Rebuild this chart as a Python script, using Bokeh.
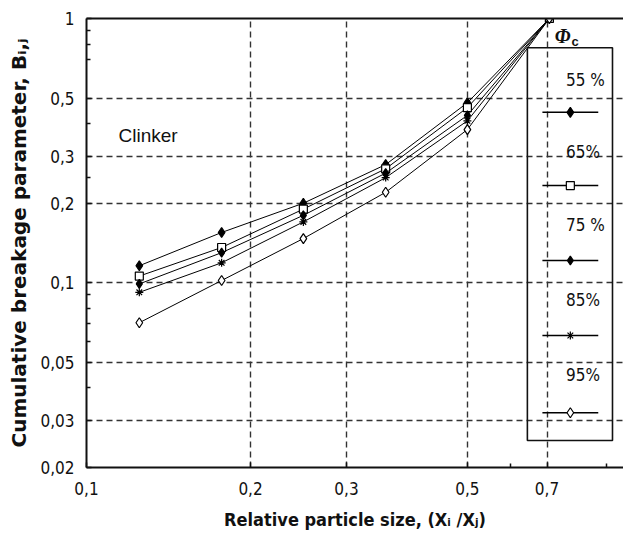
from bokeh.plotting import figure
from bokeh.models import (LogAxis, FixedTicker, Range1d, LinearScale, Label,
                          ColumnDataSource)
from bokeh.core.properties import value
from bokeh.embed import file_html
from bokeh.resources import INLINE

# ---- data ----
x_rel = [0.125, 0.177, 0.25, 0.354, 0.5, 0.707]
b_55 = [0.116, 0.155, 0.200, 0.280, 0.480, 1.0]
b_65 = [0.106, 0.136, 0.190, 0.270, 0.460, 1.0]
b_75 = [0.099, 0.130, 0.180, 0.260, 0.430, 1.0]
b_85 = [0.092, 0.119, 0.170, 0.250, 0.410, 1.0]
b_95 = [0.0706, 0.102, 0.147, 0.220, 0.380, 1.0]
series_labels = ["55 %", "65%", "75 %", "85%", "95%"]
series_values = [b_55, b_65, b_75, b_85, b_95]
series_markers = ["diamond", "square", "diamond", "asterisk", "diamond"]
series_fill = ["black", "white", "black", None, "white"]
series_size = [10, 8, 9, 8, 10]

x_ticks = [0.1, 0.2, 0.3, 0.5, 0.7]
x_tick_labels = ["0,1", "0,2", "0,3", "0,5", "0,7"]
x_minor = [0.6, 0.9]
y_ticks = [0.02, 0.03, 0.05, 0.1, 0.2, 0.3, 0.5, 1.0]
y_tick_labels = ["0,02", "0,03", "0,05", "0,1", "0,2", "0,3", "0,5", "1"]
y_minor = [0.04, 0.06, 0.07, 0.08, 0.09, 0.25, 0.4, 0.7, 0.8, 0.9]

NARROW = "DejaVu Sans Condensed"
INK = "#111111"

p = figure(width=623, height=538, x_axis_type="log", y_axis_type="log",
           x_range=Range1d(0.1, 0.967), y_range=Range1d(0.02, 1.0),
           output_backend="svg", toolbar_location=None,
           min_border_left=86, min_border_right=0, min_border_top=18,
           min_border_bottom=71)
p.outline_line_color = None
p.background_fill_color = "white"

# extra normalized frame for the legend layout
p.extra_x_ranges = {"lx": Range1d(0, 1)}
p.extra_y_ranges = {"ly": Range1d(0, 1)}
p.extra_x_scales = {"lx": LinearScale()}
p.extra_y_scales = {"ly": LinearScale()}

def style_axis(ax, ticks, labels, minor):
    ax.ticker = FixedTicker(ticks=ticks, minor_ticks=minor)
    ax.major_label_overrides = {t: l for t, l in zip(ticks, labels)}
    ax.axis_line_width = 2
    ax.axis_line_color = INK
    ax.major_tick_in = 5
    ax.major_tick_out = 0
    ax.minor_tick_in = 4
    ax.minor_tick_out = 0
    ax.major_tick_line_width = 1.5
    ax.minor_tick_line_width = 1.5
    ax.major_tick_line_color = INK
    ax.minor_tick_line_color = INK
    ax.major_label_text_font = NARROW
    ax.major_label_text_font_size = "17px"
    ax.major_label_text_color = INK
    ax.axis_label_text_color = INK

style_axis(p.xaxis[0], x_ticks, x_tick_labels, x_minor)
style_axis(p.yaxis[0], y_ticks, y_tick_labels, y_minor)
p.xaxis[0].major_label_standoff = 14
p.yaxis[0].major_label_standoff = 12

p.xaxis[0].axis_label = "Relative particle size, (X\u1d62 /X\u2c7c)"
p.xaxis[0].axis_label_text_font = NARROW
p.xaxis[0].axis_label_text_font_style = "bold"
p.xaxis[0].axis_label_text_font_size = "18px"
p.xaxis[0].axis_label_standoff = 11

p.yaxis[0].axis_label = "Cumulative breakage parameter, B\u1d62,\u2c7c"
p.yaxis[0].axis_label_text_font = "DejaVu Sans"
p.yaxis[0].axis_label_text_font_style = "bold"
p.yaxis[0].axis_label_text_font_size = "20px"
p.yaxis[0].axis_label_standoff = 6

# top border as an empty axis
top = LogAxis(ticker=FixedTicker(ticks=[]), major_label_text_font_size="0px",
              major_tick_in=0, major_tick_out=0, minor_tick_in=0,
              minor_tick_out=0, axis_line_width=2, axis_line_color=INK)
p.add_layout(top, "above")

# grids
p.xgrid.ticker = FixedTicker(ticks=[0.2, 0.3, 0.5, 0.7])
p.ygrid.ticker = FixedTicker(ticks=[0.03, 0.05, 0.1, 0.2, 0.3, 0.5])
for g in (p.xgrid[0], p.ygrid[0]):
    g.grid_line_color = "#333333"
    g.grid_line_dash = "6 4"
    g.grid_line_width = 1.4

# data series
for lab, vals, mk, fc, sz in zip(series_labels, series_values, series_markers,
                                 series_fill, series_size):
    src = ColumnDataSource(dict(x=x_rel, y=vals))
    p.line("x", "y", source=src, line_color="black", line_width=1)
    p.scatter("x", "y", source=src, marker=mk, size=sz, fill_color=fc,
              line_color="black", line_width=1.2)

# "Clinker" annotation
p.add_layout(Label(x=0.1145, y=0.36, text="Clinker", text_font="Liberation Sans",
                   text_font_size="19px", text_color=INK,
                   text_baseline="middle"))

# ---- legend drawn by hand in normalized frame coordinates ----
LEG_BOX = dict(left=0.821, right=0.9795, top=0.935, bottom=0.06)
LEG_TEXT_X = 0.893
LEG_TEXT_Y = [0.862, 0.702, 0.539, 0.372, 0.205]
LEG_LINE_Y = [0.791, 0.628, 0.461, 0.294, 0.122]
LEG_LINE_X0, LEG_LINE_X1, LEG_MARK_X = 0.849, 0.953, 0.901

p.quad(left=[LEG_BOX["left"]], right=[LEG_BOX["right"]], top=[LEG_BOX["top"]],
       bottom=[LEG_BOX["bottom"]], fill_color=None, line_color=INK,
       line_width=1.6, x_range_name="lx", y_range_name="ly")
p.text(x=[LEG_TEXT_X] * 5, y=LEG_TEXT_Y, text=series_labels,
       text_font=value(NARROW), text_font_size="17px", text_color=INK,
       text_baseline="middle", x_range_name="lx", y_range_name="ly")
p.segment(x0=[LEG_LINE_X0] * 5, x1=[LEG_LINE_X1] * 5, y0=LEG_LINE_Y,
          y1=LEG_LINE_Y, line_color="black", line_width=1.5,
          x_range_name="lx", y_range_name="ly")
for yy, mk, fc, sz in zip(LEG_LINE_Y, series_markers, series_fill, series_size):
    p.scatter(x=[LEG_MARK_X], y=[yy], marker=mk, size=sz, fill_color=fc,
              line_color="black", line_width=1.2,
              x_range_name="lx", y_range_name="ly")

p.text(x=[0.872], y=[0.962], text=["\u03a6"], text_font=value("Liberation Serif"),
       text_font_style="bold italic", text_font_size="20px", text_color=INK,
       text_baseline="middle", x_range_name="lx", y_range_name="ly")
p.text(x=[0.903], y=[0.948], text=["c"], text_font=value("Liberation Sans"),
       text_font_style="bold", text_font_size="13px", text_color=INK,
       text_baseline="middle", x_range_name="lx", y_range_name="ly")

open("out.html", "w").write(file_html(p, INLINE))
